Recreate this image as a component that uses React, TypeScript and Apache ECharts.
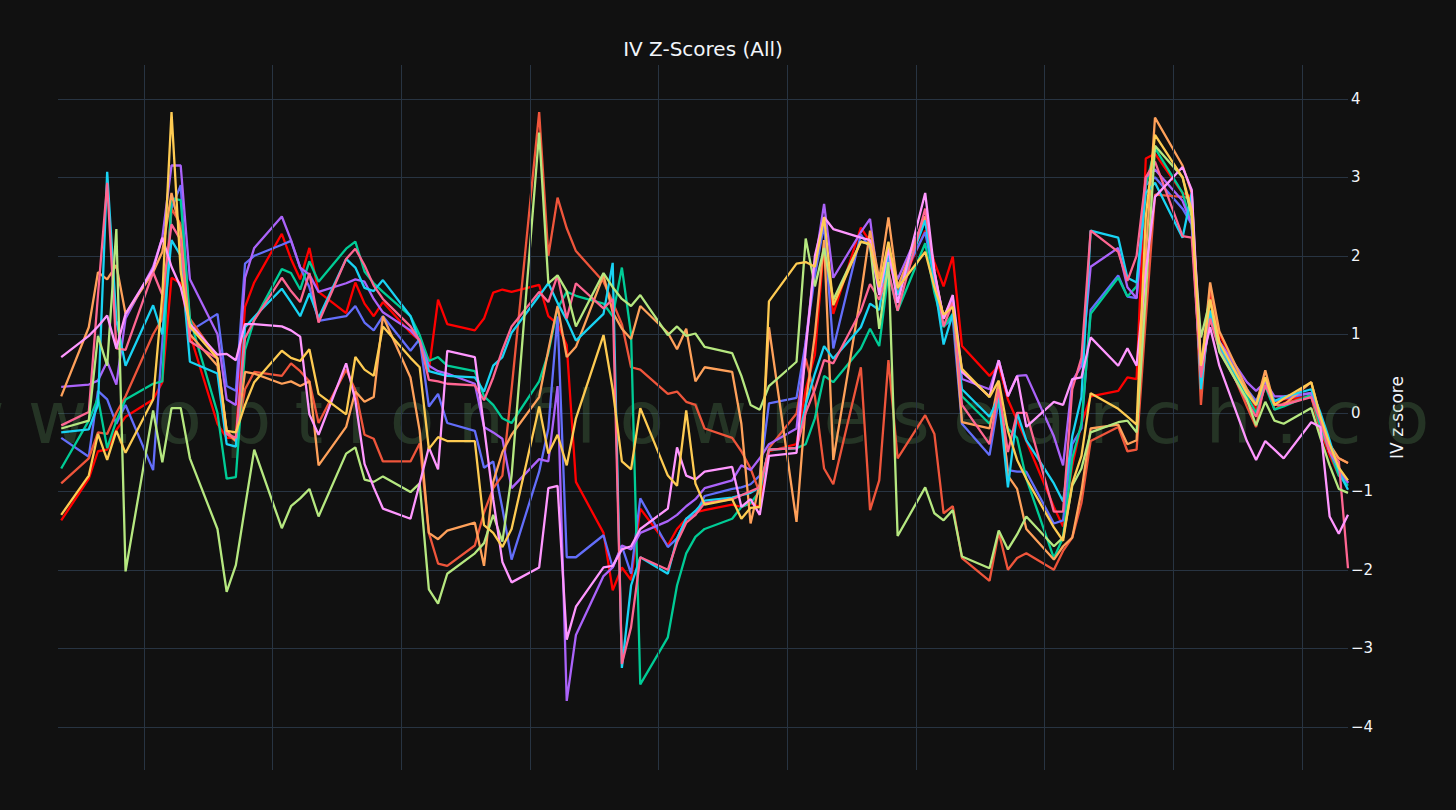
import React, { useEffect, useRef } from "react";
import * as echarts from "echarts";

// Trading days (calendar-day offsets from the first session, a Friday)
const DAYS = [
  0,
  3, 4, 5, 6, 7,
  10, 11, 12, 13, 14,
  17, 18, 19, 20, 21,
  24, 25, 26, 27, 28,
  31, 32, 33, 34, 35,
  38, 39, 40, 41, 42,
  45, 46, 47, 48, 49,
  52, 53, 54, 55, 56,
  59, 60, 61, 62, 63,
  66, 67, 68, 69, 70,
  73, 74, 75, 76, 77,
  80, 81, 82, 83, 84,
  87, 88, 89, 90, 91,
  94, 95, 96, 97, 98,
  101, 102, 103, 104, 105,
  108, 109, 110, 111, 112,
  115, 116, 117, 118, 119,
  122, 123, 124, 125, 126,
  129, 130, 131, 132, 133,
  136, 137, 138, 139, 140,
];

// Vertical grid lines (Sundays, every two weeks)
const GRID_DAYS = [9, 23, 37, 51, 65, 79, 93, 107, 121, 135];

const Y_TICKS = [-4, -3, -2, -1, 0, 1, 2, 3, 4];

const RED = [
  -1.37,
  -0.84, -0.49, -0.47, -0.22, -0.05,
  0.17, 0.39, 1.72, 1.65, 1.0,
  -0.14, -0.32, -0.32, 1.35, 1.66,
  2.28, 1.96, 1.7, 2.1, 1.54,
  1.27, 1.66, 1.39, 1.23, 1.41,
  1.02, 0.92, 0.54, 1.44, 1.13,
  1.05, 1.2, 1.53, 1.57, 1.54,
  1.63, 1.23, 1.13, 0.86, -0.88,
  -1.53, -2.26, -1.97, -2.13, -1.22,
  -1.69, -1.48, -1.35, -1.27, -1.24,
  -1.17, -1.2, -1.15, -1.2, -0.49,
  -0.4, 0.3, 0.74, 2.14, 1.26,
  2.36, 2.18, 1.61, 1.96, 1.53,
  2.32, 1.92, 1.61, 1.99, 0.85,
  0.47, 0.6, 0.17, -0.1, -0.36,
  -1.2, -1.45, -0.67, -0.14, 0.21,
  0.28, 0.45, 0.43, 3.24, 3.3,
  2.8, 2.75, 0.3, 1.53, 1.0,
  0.3, 0.04, 0.39, 0.12, 0.17,
  0.21, -0.23, -0.54, -0.8, -0.89,
];

const TOMATO = [
  -0.9,
  -0.58, -0.25, -0.27, 0.0, 0.21,
  1.0, 1.2, 2.6, 2.4, 1.2,
  0.7, -0.27, -0.36, 0.3, 0.52,
  0.47, 0.63, 0.53, 0.4, -0.13,
  0.55, 0.29, -0.28, -0.33, -0.62,
  -0.62, -0.39, -1.53, -1.92, -1.95,
  -1.69, -1.27, -0.96, -0.8, 0.3,
  3.83, 2.0, 2.74, 2.35, 2.06,
  1.67, 1.41, 1.13, 0.58, 0.55,
  0.24, 0.27, 0.14, 0.1, -0.2,
  -0.32, -0.49, -0.71, -1.02, -0.45,
  -0.01, 0.69, 0.21, -0.71, -0.91,
  0.58, -1.24, -0.86, 0.67, -0.58,
  -0.03, -0.27, -1.28, -1.19, -1.85,
  -2.14, -1.52, -2.0, -1.85, -1.79,
  -2.0, -1.76, -1.59, -1.15, -0.36,
  -0.18, -0.49, -0.47, 1.2, 2.78,
  2.75, 2.73, 0.1, 1.61, 0.91,
  0.08, -0.18, 0.43, 0.04, 0.12,
  0.21, -0.23, -0.49, -0.58, -0.64,
];

const GREEN = [
  -0.71,
  -0.1, 0.19, -0.45, -0.1, 0.17,
  0.37, 0.4, 2.73, 2.71, 1.2,
  0.0, -0.84, -0.82, 0.8, 1.18,
  1.83, 1.78, 1.57, 1.93, 1.67,
  2.09, 2.18, 1.8, 1.65, 1.54,
  1.23, 0.99, 0.66, 0.71, 0.6,
  0.53, 0.21, 0.1, -0.07, -0.13,
  0.4, 0.76, 1.33, 1.54, 1.49,
  1.39, 1.23, 1.85, 1.0, -3.46,
  -2.86, -2.2, -1.79, -1.58, -1.48,
  -1.35, -1.2, -1.15, -1.0, -0.47,
  -0.45, -0.4, -0.07, 0.47, 0.39,
  0.82, 1.07, 0.85, 1.79, 1.3,
  2.16, 1.53, 1.09, 1.26, 0.21,
  -0.14, 0.12, -0.2, -0.32, -0.84,
  -1.85, -1.59, -0.58, -0.14, 1.26,
  1.72, 1.48, 1.61, 2.89, 3.37,
  2.8, 2.4, 0.43, 1.22, 0.82,
  0.21, 0.0, 0.34, 0.04, 0.08,
  0.23, -0.18, -0.49, -0.8, -0.93,
];

const PURPLE = [
  0.33,
  0.36, 0.41, 0.65, 0.36, 1.2,
  1.86, 2.23, 3.15, 3.15, 1.7,
  1.0, 0.17, 0.1, 1.72, 2.1,
  2.5, 2.2, 1.85, 1.76, 1.54,
  1.65, 1.7, 1.67, 1.45, 1.28,
  1.05, 0.92, 0.6, 0.53, 0.5,
  0.37, -0.18, -0.25, -0.33, -0.96,
  -0.59, -0.62, 0.34, -3.67, -2.83,
  -2.08, -1.97, -1.69, -1.74, -1.53,
  -1.38, -1.3, -1.19, -1.1, -0.96,
  -0.86, -0.67, -0.73, -0.58, -0.4,
  -0.2, 0.9, 1.9, 2.66, 1.72,
  2.3, 2.47, 1.57, 2.05, 1.7,
  2.49, 1.75, 1.22, 1.46, 0.43,
  0.3, 0.67, 0.21, 0.47, 0.48,
  -0.3, -0.67, 0.4, 0.6, 1.86,
  2.1, 1.6, 1.46, 3.0, 3.1,
  2.7, 2.4, 0.43, 1.26, 0.91,
  0.39, 0.28, 0.39, 0.21, 0.21,
  0.25, -0.1, -0.5, -0.71, -0.89,
];

const BLUE = [
  -0.32,
  -0.56, 0.28, 0.17, -0.14, 0.1,
  -0.73, 0.9, 2.6, 2.9, 1.04,
  1.26, 0.34, 0.28, 1.9, 2.0,
  2.14, 2.19, 1.85, 1.6, 1.17,
  1.23, 1.36, 1.15, 1.05, 1.23,
  0.79, 0.94, 0.08, 0.24, -0.13,
  -0.23, -0.7, -0.62, -1.22, -1.87,
  -0.75, -0.2, 1.23, -1.84, -1.84,
  -1.56, -1.97, -1.7, -2.05, -1.09,
  -1.71, -1.6, -1.35, -1.3, -1.06,
  -0.97, -0.95, -0.91, -0.8, 0.12,
  0.19, 0.9, 1.75, 2.4, 0.82,
  2.27, 2.1, 1.57, 1.95, 1.6,
  2.3, 1.7, 1.1, 1.2, -0.14,
  -0.54, 0.17, -0.73, -0.75, -0.75,
  -1.41, -1.37, -0.4, -0.2, 1.31,
  1.75, 1.48, 1.46, 2.9, 3.0,
  2.6, 2.4, 0.43, 1.3, 0.9,
  0.3, 0.15, 0.4, 0.15, 0.18,
  0.25, -0.1, -0.45, -0.75, -0.9,
];

const CYAN = [
  -0.25,
  -0.21, 0.1, 3.07, 1.18, 0.6,
  1.37, 1.0, 2.2, 2.0, 0.65,
  0.5, -0.4, -0.43, 1.09, 1.22,
  1.58, 1.41, 1.23, 1.52, 1.21,
  1.96, 1.85, 1.59, 1.55, 1.69,
  1.23, 0.89, 0.53, 0.5, 0.47,
  0.45, 0.27, 0.6, 0.71, 1.02,
  1.49, 1.65, 1.4, 1.18, 0.92,
  1.26, 1.91, -3.25, -2.2, -1.84,
  -2.05, -1.6, -1.35, -1.25, -1.12,
  -1.08, -1.05, -1.02, -0.95, -0.47,
  -0.45, 0.1, 0.5, 0.85, 0.69,
  1.09, 1.39, 1.31, 2.05, 1.5,
  2.45, 1.65, 0.87, 1.26, 0.3,
  -0.05, 0.2, -0.95, 0.0, -0.35,
  -0.9, -1.13, -0.3, 0.2, 2.32,
  2.23, 1.72, 1.66, 2.8, 2.93,
  2.23, 2.8, 0.3, 1.3, 0.85,
  0.25, 0.1, 0.35, 0.15, 0.2,
  0.3, 0.0, -0.35, -0.75, -0.98,
];

const PINK = [
  -0.16,
  0.01, 1.5, 2.93, 0.82, 0.8,
  1.79, 1.5, 2.4, 2.2, 0.91,
  0.69, -0.27, -0.32, 0.95, 1.18,
  1.72, 1.55, 1.41, 1.78, 1.15,
  1.96, 2.09, 1.88, 1.62, 1.45,
  1.1, 0.92, 0.42, 0.4, 0.37,
  0.35, 0.16, 0.45, 0.8, 1.1,
  1.54, 1.41, 1.75, 1.2, 1.65,
  1.33, 1.45, -3.2, -2.73, -1.84,
  -2.0, -1.65, -1.4, -1.3, -1.15,
  -1.1, -1.05, -1.0, -0.95, -0.47,
  -0.45, 0.0, 0.3, 0.67, 0.63,
  1.3, 1.64, 1.44, 1.8, 1.3,
  2.6, 1.8, 1.1, 1.4, 0.1,
  -0.4, 0.3, -0.5, 0.0, 0.0,
  -1.26, -1.26, 0.3, 0.7, 2.32,
  2.05, 1.68, 2.0, 3.0, 3.2,
  2.25, 2.23, 0.45, 1.2, 0.8,
  0.15, -0.05, 0.35, 0.1, 0.1,
  0.2, -0.1, -0.5, -0.62, -1.98,
];

const LIGHTGREEN = [
  -0.2,
  -0.1, 0.98, 0.6, 2.34, -2.02,
  0.03, -0.63, 0.06, 0.06, -0.58,
  -1.48, -2.28, -1.94, -1.2, -0.47,
  -1.47, -1.19, -1.09, -0.97, -1.32,
  -0.52, -0.44, -0.85, -0.88, -0.81,
  -1.01, -0.9, -2.25, -2.43, -2.05,
  -1.79, -1.66, -1.3, -1.64, -0.8,
  3.57, 1.65, 1.75, 1.55, 1.1,
  1.78, 1.6, 1.45, 1.36, 1.5,
  0.99, 1.1, 0.98, 1.01, 0.84,
  0.76, 0.47, 0.1, 0.04, 0.34,
  0.65, 2.22, 1.61, 2.1, 1.44,
  2.18, 2.14, 1.07, 1.92, -1.57,
  -0.95, -1.28, -1.37, -1.24, -1.83,
  -1.98, -1.5, -1.74, -1.55, -1.32,
  -1.7, -1.59, -0.93, -0.71, -0.25,
  -0.12, -0.1, -0.25, 1.5, 3.4,
  3.0, 2.49, 0.96, 1.44, 0.78,
  0.17, -0.16, 0.14, -0.1, -0.14,
  0.06, -0.32, -0.67, -0.97, -1.02,
];

const LIGHTPINK = [
  0.71,
  0.98, 1.1, 1.24, 0.82, 1.26,
  1.83, 2.23, 1.86, 1.6, 1.13,
  0.74, 0.75, 0.67, 1.13, 1.13,
  1.1, 1.05, 0.97, -0.02, -0.28,
  0.63, 0.16, -0.65, -0.95, -1.22,
  -1.35, -0.9, -0.44, -0.72, 0.79,
  0.71, -0.18, -1.1, -1.9, -2.16,
  -1.97, -0.96, -0.93, -2.89, -2.47,
  -1.97, -1.95, -1.74, -1.7, -1.48,
  -1.22, -0.44, -0.8, -0.85, -0.75,
  -0.69, -1.2, -1.1, -1.3, -0.55,
  -0.51, 0.8, 2.0, 2.49, 2.34,
  2.23, 2.2, 1.5, 2.1, 1.4,
  2.8, 1.8, 1.2, 1.5, 0.52,
  0.21, 0.67, 0.21, 0.47, -0.18,
  0.14, 0.1, 0.43, 0.45, 0.96,
  0.6, 0.82, 0.6, 1.8, 2.75,
  3.13, 2.84, 0.6, 1.09, 0.6,
  -0.36, -0.6, -0.36, -0.47, -0.58,
  -0.12, -0.18, -1.32, -1.54, -1.3,
];

const ORANGE = [
  0.21,
  1.09, 1.79, 1.7, 1.88, 1.26,
  1.79, 2.05, 2.8, 2.3, 1.0,
  0.6, -0.23, -0.36, 0.52, 0.5,
  0.37, 0.4, 0.34, 0.4, -0.67,
  -0.18, 0.27, 0.14, 0.2, 1.23,
  0.45, -0.23, -1.53, -1.61, -1.5,
  -1.4, -1.95, -0.88, -0.5, -0.28,
  0.2, 0.8, 1.36, 0.71, 0.84,
  1.75, 1.28, 1.07, 0.94, 1.36,
  1.02, 0.81, 1.07, 0.4, 0.58,
  0.52, -0.14, -1.41, -0.9, 1.09,
  -1.39, 0.1, 1.0, 2.2, -0.6,
  1.5, 2.32, 1.7, 2.49, 1.6,
  2.5, 1.8, 1.2, 1.4, -0.12,
  -0.2, 0.4, -0.8, -0.97, -1.48,
  -1.87, -1.7, -1.59, -1.0, -0.2,
  -0.15, -0.4, -0.35, 2.0, 3.76,
  3.15, 2.8, 0.5, 1.66, 1.04,
  0.3, 0.1, 0.54, 0.1, 0.1,
  0.39, -0.05, -0.4, -0.58, -0.64,
];

const YELLOW = [
  -1.3,
  -0.8, -0.27, -0.6, -0.23, -0.51,
  0.17, 1.5, 3.83, 1.8, 1.1,
  0.69, -0.23, -0.25, 0.1, 0.39,
  0.79, 0.7, 0.66, 0.81, 0.24,
  -0.02, 0.71, 0.55, 0.47, 1.1,
  0.7, 0.58, -0.46, -0.31, -0.36,
  -0.36, -1.43, -1.53, -1.71, -1.48,
  0.08, -0.52, -0.28, -0.67, -0.07,
  0.99, 0.3, -0.62, -0.72, 0.06,
  -0.8, -0.93, 0.03, -0.9, -1.17,
  -1.1, -1.35, -1.21, -1.2, 1.42,
  1.9, 1.92, 1.86, 2.49, 1.37,
  2.18, 2.15, 1.6, 2.18, 1.59,
  2.05, 1.6, 1.25, 1.35, 0.56,
  0.2, 0.41, -0.23, -0.6, -0.84,
  -1.46, -1.63, -0.9, -0.55, 0.25,
  0.05, -0.05, -0.15, 2.5, 3.54,
  3.0, 2.58, 0.6, 1.44, 0.9,
  0.25, 0.1, 0.45, 0.1, 0.18,
  0.39, -0.05, -0.4, -0.7, -0.86,
];

const SERIES_LIST: { name: string; color: string; values: number[] }[] = [
  { name: "red", color: "#FF0000", values: RED },
  { name: "s1", color: "#636EFA", values: BLUE },
  { name: "s2", color: "#EF553B", values: TOMATO },
  { name: "s3", color: "#00CC96", values: GREEN },
  { name: "s4", color: "#AB63FA", values: PURPLE },
  { name: "s5", color: "#FFA15A", values: ORANGE },
  { name: "s6", color: "#19D3F3", values: CYAN },
  { name: "s7", color: "#FF6692", values: PINK },
  { name: "s8", color: "#B6E880", values: LIGHTGREEN },
  { name: "s9", color: "#FF97FF", values: LIGHTPINK },
  { name: "s10", color: "#FECB52", values: YELLOW },
];

const TITLE = "IV Z-Scores (All)";
const Y_NAME = "IV z-score";
const WATERMARK = "w w w . o p t i o n f l o w r e s e a r c h . c o m";

const FONT = '"DejaVu Sans", Verdana, sans-serif';

export default function App() {
  const ref = useRef<HTMLDivElement>(null);

  useEffect(() => {
    document.body.style.margin = "0";
    document.body.style.background = "#111111";
    if (!ref.current) return;
    const chart = echarts.init(ref.current, undefined, { renderer: "svg" });

    const fmt = (v: number) => {
      if (!Y_TICKS.includes(v)) return "";
      return v < 0 ? "\u2212" + String(-v) : String(v);
    };

    const lineSeries = SERIES_LIST.map((s) => ({
      name: s.name,
      type: "line",
      data: DAYS.map((d, i) => [d, s.values[i]]),
      showSymbol: false,
      symbol: "none",
      lineStyle: { width: 2.3, color: s.color },
      itemStyle: { color: s.color },
      z: 3,
      silent: true,
    }));

    chart.setOption({
      animation: false,
      backgroundColor: "#111111",
      title: {
        text: TITLE,
        left: 703,
        top: 39,
        textAlign: "center",
        padding: 0,
        textStyle: {
          color: "#f2f5fa",
          fontSize: 20,
          fontWeight: "normal",
          fontFamily: FONT,
        },
      },
      grid: { left: 58, right: 108, top: 65, bottom: 40, containLabel: false },
      xAxis: {
        type: "value",
        min: -0.35,
        max: 140,
        axisLine: { show: false },
        axisTick: { show: false },
        axisLabel: { show: false },
        splitLine: { show: false },
      },
      yAxis: {
        type: "value",
        position: "right",
        min: -4.55,
        max: 4.43,
        splitNumber: 9,
        axisLine: { show: false },
        axisTick: { show: false },
        axisLabel: {
          color: "#f2f5fa",
          fontSize: 15,
          fontFamily: FONT,
          margin: 3,
          showMinLabel: false,
          showMaxLabel: false,
          formatter: fmt,
        },
        splitLine: {
          show: true,
          showMinLine: false,
          showMaxLine: false,
          lineStyle: { color: "#283442", width: 1 },
        },
        name: Y_NAME,
        nameLocation: "middle",
        nameRotate: 90,
        nameGap: 40,
        nameTextStyle: { color: "#f2f5fa", fontSize: 17, fontFamily: FONT },
      },
      graphic: [
        {
          type: "text",
          x: -138,
          y: 417,
          z: 1,
          silent: true,
          style: {
            text: WATERMARK,
            fontSize: 73,
            fontFamily: '"DejaVu Sans", Verdana, sans-serif',
            fill: "rgba(100,160,100,0.25)",
            align: "left",
            verticalAlign: "middle",
          },
        },
      ],
      series: [
        {
          name: "grid",
          type: "line",
          data: [],
          silent: true,
          z: 2,
          markLine: {
            silent: true,
            symbol: "none",
            label: { show: false },
            lineStyle: { color: "#283442", width: 1, type: "solid" },
            data: GRID_DAYS.map((d) => ({ xAxis: d })),
          },
        },
        ...lineSeries,
      ],
    });

    return () => chart.dispose();
  }, []);

  return <div ref={ref} style={{ width: 1456, height: 810 }} />;
}
